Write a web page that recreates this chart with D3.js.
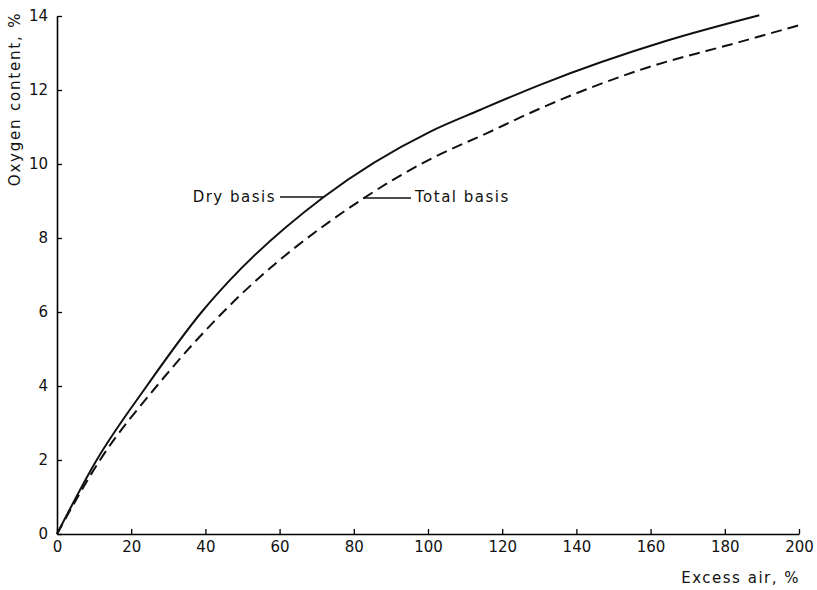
<!DOCTYPE html>
<html>
<head>
<meta charset="utf-8">
<script src="https://cdn.jsdelivr.net/npm/d3@7"></script>
<style>
  body { margin: 0; background: #fff; }
  text { font-family: "DejaVu Sans", sans-serif; fill: #111; }
</style>
</head>
<body>
<script>

// excess air (%) vs oxygen content (%)
var dryX = [0, 10.7, 24.2, 39, 46.6, 71.8, 100.5, 114, 130.2, 164.3, 189.3]
var dryY = [0, 2, 4, 6, 6.86, 9.1, 10.87, 11.46, 12.14, 13.33, 14.02]

var totalX = [0, 11.6, 26.9, 44.8, 82.6, 100, 115.8, 130.2, 157.1, 184.1, 200]
var totalY = [0, 2, 4, 6, 9.07, 10.1, 10.83, 11.5, 12.54, 13.3, 13.75]

var xTicks = [0, 20, 40, 60, 80, 100, 120, 140, 160, 180, 200]
var yTicks = [0, 2, 4, 6, 8, 10, 12, 14]

var width = 817,
    height = 590

var x = d3.scaleLinear().domain([0, 200]).range([57, 799])
var y = d3.scaleLinear().domain([0, 14]).range([534, 16])

var svg = d3.select("body").append("svg")
    .attr("width", width)
    .attr("height", height)

// axes, ticks point inwards
var xAxis = svg.append("g")
    .attr("transform", "translate(0," + y(0) + ")")
    .call(d3.axisBottom(x).tickValues(xTicks).tickSizeInner(-5).tickSizeOuter(0).tickPadding(7))
xAxis.select(".domain").attr("stroke-width", 1.6)
xAxis.selectAll(".tick line").attr("stroke-width", 1.3)
xAxis.selectAll("text").style("font-size", "15px").attr("fill", "#111")

var yAxis = svg.append("g")
    .attr("transform", "translate(" + x(0) + ",0)")
    .call(d3.axisLeft(y).tickValues(yTicks).tickSizeInner(-5).tickSizeOuter(0).tickPadding(9))
yAxis.select(".domain").attr("stroke-width", 1.6)
yAxis.selectAll(".tick line").attr("stroke-width", 1.3)
yAxis.selectAll("text").style("font-size", "15px").attr("fill", "#111")

var line = d3.line()
    .x(function(d) { return x(d[0]) })
    .y(function(d) { return y(d[1]) })
    .curve(d3.curveMonotoneX)

svg.append("path")
    .datum(d3.zip(dryX, dryY))
    .attr("d", line)
    .attr("fill", "none")
    .attr("stroke", "#111")
    .attr("stroke-width", 2)

svg.append("path")
    .datum(d3.zip(totalX, totalY))
    .attr("d", line)
    .attr("fill", "none")
    .attr("stroke", "#111")
    .attr("stroke-width", 2)
    .attr("stroke-dasharray", "11,6")

// labels with leader lines
svg.append("line")
    .attr("x1", 280).attr("y1", 197)
    .attr("x2", x(72)).attr("y2", 197)
    .attr("stroke", "#111").attr("stroke-width", 1.3)
svg.append("text")
    .attr("x", 276).attr("y", 202)
    .attr("text-anchor", "end")
    .style("font-size", "15px")
    .style("letter-spacing", "1.5px")
    .text("Dry basis")

svg.append("line")
    .attr("x1", x(82.6)).attr("y1", 198)
    .attr("x2", 411).attr("y2", 198)
    .attr("stroke", "#111").attr("stroke-width", 1.3)
svg.append("text")
    .attr("x", 415).attr("y", 202)
    .style("font-size", "15px")
    .style("letter-spacing", "1.5px")
    .text("Total basis")

// axis titles
svg.append("text")
    .attr("x", 800).attr("y", 583)
    .attr("text-anchor", "end")
    .style("font-size", "15px")
    .style("letter-spacing", "1.5px")
    .text("Excess air, %")

svg.append("text")
    .attr("transform", "translate(20,99) rotate(-90)")
    .attr("text-anchor", "middle")
    .style("font-size", "15px")
    .style("letter-spacing", "1.8px")
    .text("Oxygen content, %")

</script>
</body>
</html>
